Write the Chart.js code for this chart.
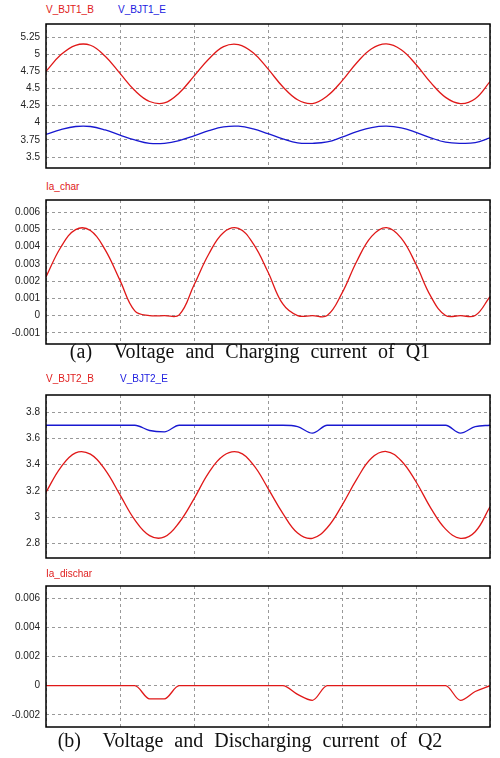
<!DOCTYPE html>
<html><head><meta charset="utf-8">
<script src="https://cdn.jsdelivr.net/npm/chart.js@4"></script>
<style>
body{margin:0;background:#fff;width:500px;height:758px;position:relative;overflow:hidden;font-family:Arial,"Liberation Sans",sans-serif}
.p{position:absolute;left:0;width:492px}
.t{position:absolute;font-size:10px}
.cap{position:absolute;left:0;width:500px;text-align:center;font-family:"Liberation Serif",serif;font-size:20px;word-spacing:6px;color:#111}
</style></head><body>
<div class="t" style="left:46px;top:4px;color:#e02020">V_BJT1_B</div>
<div class="t" style="left:118px;top:4px;color:#2020e0">V_BJT1_E</div>
<div class="p" style="top:12px;height:168px"><canvas id="c1"></canvas></div>
<div class="t" style="left:46px;top:181px;color:#e02020">Ia_char</div>
<div class="p" style="top:188px;height:168px"><canvas id="c2"></canvas></div>
<div class="cap" style="top:340px">(a)&nbsp; Voltage and Charging current of Q1</div>
<div class="t" style="left:46px;top:373px;color:#e02020">V_BJT2_B</div>
<div class="t" style="left:120px;top:373px;color:#2020e0">V_BJT2_E</div>
<div class="p" style="top:383px;height:187px"><canvas id="c3"></canvas></div>
<div class="t" style="left:46px;top:568px;color:#e02020">Ia_dischar</div>
<div class="p" style="top:574px;height:165px"><canvas id="c4"></canvas></div>
<div class="cap" style="top:729px">(b)&nbsp; Voltage and Discharging current of Q2</div>
<script>
const time = [0,0.2,0.4,0.6,0.8,1.0,1.2,1.4,1.6,1.8,2.0,2.2,2.4,2.6,2.8,3.0,3.2,3.4,3.6,3.8,4.0,4.2,4.4,4.6,4.8,5.0,5.2,5.4,5.6,5.8,6.0];
const vBjt1B = [4.75,4.99,5.13,5.13,4.97,4.72,4.47,4.31,4.29,4.435,4.68,4.93,5.11,5.14,5.02,4.785,4.525,4.335,4.28,4.39,4.61,4.875,5.08,5.15,5.065,4.85,4.585,4.37,4.28,4.35,4.60];
const vBjt1E = [3.83,3.90,3.945,3.945,3.895,3.82,3.75,3.70,3.70,3.74,3.81,3.885,3.94,3.95,3.91,3.84,3.765,3.706,3.70,3.72,3.79,3.87,3.93,3.95,3.925,3.86,3.78,3.717,3.70,3.71,3.78];
const iaChar = [0.00224,0.00396,0.00498,0.00493,0.00381,0.00204,0.00027,0,0,0.00004,0.00177,0.00357,0.00482,0.00505,0.00417,0.00252,0.00067,0,0,0,0.0013,0.00315,0.00459,0.0051,0.00449,0.00297,0.00111,0,0,0,0.0011];
const vBjt2B = [3.19,3.38,3.49,3.48,3.36,3.17,2.98,2.86,2.85,2.96,3.14,3.34,3.47,3.495,3.40,3.22,3.03,2.88,2.84,2.92,3.09,3.29,3.45,3.50,3.43,3.27,3.07,2.91,2.84,2.89,3.08];
const vBjt2E = [3.70,3.70,3.70,3.70,3.70,3.70,3.70,3.66,3.65,3.70,3.70,3.70,3.70,3.70,3.70,3.70,3.70,3.69,3.64,3.70,3.70,3.70,3.70,3.70,3.70,3.70,3.70,3.70,3.64,3.69,3.70];
const iaDischar = [0,0,0,0,0,0,0,-0.0009,-0.0009,0,0,0,0,0,0,0,0,-0.0006,-0.001,0,0,0,0,0,0,0,0,0,-0.001,-0.0004,0];
const ticks1 = [3.5,3.75,4,4.25,4.5,4.75,5,5.25];
const ticks2 = [-0.001,0,0.001,0.002,0.003,0.004,0.005,0.006];
const ticks3 = [2.8,3,3.2,3.4,3.6,3.8];
const ticks4 = [-0.002,0,0.002,0.004,0.006];

const frame = {id:'frame',afterDraw(c){const a=c.chartArea,x=c.ctx;x.save();x.strokeStyle='#000';x.lineWidth=1.5;x.strokeRect(a.left,a.top,a.right-a.left,a.bottom-a.top);x.restore();}};
function mk(id,sets,min,max,ticks){
  new Chart(document.getElementById(id),{type:'line',
    data:{datasets:sets.map(s=>({data:time.map((t,i)=>({x:t,y:s[0][i]})),borderColor:s[1],borderWidth:1.3,pointRadius:0,
      tension:s[2]?0:0.4,cubicInterpolationMode:s[2]?'monotone':'default',fill:false}))},
    options:{responsive:true,maintainAspectRatio:false,animation:false,
      layout:{padding:{top:1,right:2,bottom:1,left:0}},
      plugins:{legend:{display:false},tooltip:{enabled:false}},
      scales:{
        x:{type:'linear',min:0,max:6,ticks:{display:false,stepSize:1},grid:{color:'#999',drawTicks:false},border:{display:false,dash:[3,3]},afterFit(s){s.height=0;}},
        y:{min:min,max:max,afterBuildTicks(s){s.ticks=ticks.map(v=>({value:v}));},
          ticks:{color:'#222',font:{size:10,family:'Arial'},padding:6,callback:v=>String(+v.toFixed(4))},
          grid:{color:'#999',drawTicks:false},border:{display:false,dash:[3,3]},afterFit(s){s.width=46;}}
      }},plugins:[frame]});
}
mk('c1',[[vBjt1B,'#e01818'],[vBjt1E,'#1818d0']],3.34,5.44,ticks1);
mk('c2',[[iaChar,'#e01818']],-0.00165,0.0067,ticks2);
mk('c3',[[vBjt2E,'#1818d0',1],[vBjt2B,'#e01818']],2.69,3.93,ticks3);
mk('c4',[[iaDischar,'#e01818',1]],-0.00283,0.00683,ticks4);
</script></body></html>
